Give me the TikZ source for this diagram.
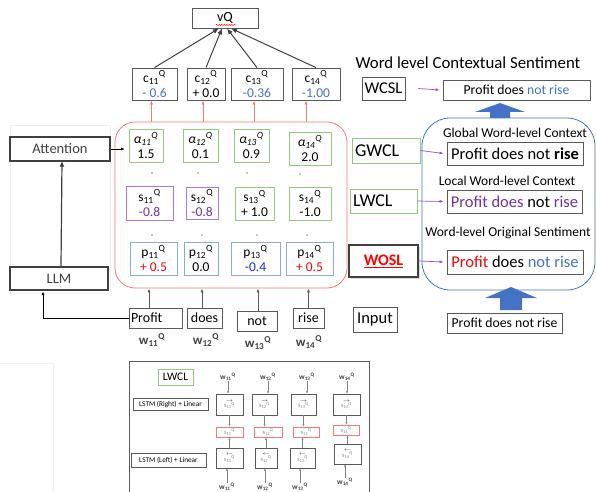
\documentclass[tikz,border=0pt]{standalone}
\usepackage{fontspec}
\setmainfont{Carlito}
\usetikzlibrary{arrows.meta,decorations.pathmorphing,shadows}

\definecolor{boxgray}{RGB}{89,89,89}
\definecolor{darkgray}{RGB}{64,64,64}
\definecolor{greenb}{RGB}{150,200,130}
\definecolor{purpleb}{RGB}{170,120,215}
\definecolor{purpletxt}{RGB}{112,48,160}
\definecolor{blueb}{RGB}{140,170,220}
\definecolor{bluetxt}{RGB}{68,114,196}
\definecolor{bluesat}{RGB}{20,40,240}
\definecolor{redtxt}{RGB}{255,0,0}
\definecolor{redb}{RGB}{245,120,120}
\definecolor{arrowpurple}{RGB}{150,80,200}
\definecolor{bigblue}{RGB}{68,114,196}

\newcommand{\ix}[2]{#1\textsubscript{#2}\textsuperscript{Q}}

\tikzset{
  every node/.style={inner sep=0pt, font=\fontsize{13.5}{15}\selectfont},
  graybox/.style={draw=boxgray, line width=0.8pt, align=center},
  greenbox/.style={draw=greenb, line width=0.8pt, align=center},
  purplebox/.style={draw=purpleb, line width=0.8pt, align=center},
  bluebox/.style={draw=blueb, line width=0.8pt, align=center},
  thickbox/.style={draw=darkgray, line width=2.4pt, text=darkgray, font=\fontsize{14.5}{16}\selectfont},
  wordbox/.style={draw=boxgray, line width=0.8pt, font=\fontsize{14}{15}\selectfont},
  resbox/.style={draw=boxgray, line width=0.8pt, font=\fontsize{16.5}{18}\selectfont},
  caption/.style={font=\fontsize{13.5}{15}\selectfont},
  layerbox/.style={greenbox, align=left, font=\fontsize{18}{19}\selectfont},
  tip/.style={-{Latex[length=4pt,width=3pt]}},
  bigtip/.style={-{Latex[length=6pt,width=5pt]}},
  redarrow/.style={tip, draw=redb, line width=0.7pt},
  grayarrow/.style={tip, draw=boxgray, line width=0.7pt},
  purplearrow/.style={tip, draw=arrowpurple, line width=0.7pt},
  dot/.style={circle, fill=black, minimum size=1.3pt},
  small/.style={font=\fontsize{7.3}{8}\selectfont},
  tinybox/.style={draw=boxgray, line width=0.5pt, align=center, font=\fontsize{6.3}{6.5}\selectfont, text=gray},
  tinyred/.style={draw=redb, line width=0.7pt, font=\fontsize{6.3}{6.5}\selectfont, text=gray},
  tinyarrow/.style={-{Latex[length=2.5pt,width=2pt]}, draw=gray, line width=0.5pt},
  wlab/.style={font=\fontsize{7.5}{8}\selectfont\bfseries, text=darkgray},
  wordlab/.style={font=\fontsize{13}{14}\selectfont\bfseries, text=darkgray},
}

\begin{document}
\begin{tikzpicture}[x=1pt,y=-1pt]
\useasboundingbox (0,0) rectangle (597,492);

% faint panels
\draw[gray!12, fill=white] (10,125) rectangle (110,293);
\draw[gray!12, fill=white] (-1,363) rectangle (53,493);

% output of the model
\node[graybox, minimum width=66, minimum height=20, font=\fontsize{14}{15}\selectfont] (vq) at (225,18) {vQ};
\draw[redtxt, line width=0.5pt, decorate, decoration={snake, amplitude=0.6pt, segment length=2.5pt}]
  (216,25) -- (236,25);

\node[graybox, minimum width=45, minimum height=32] (c1) at (154.5,84) {\ix{c}{11}\\\textcolor{bluetxt}{- 0.6}};
\node[graybox, minimum width=38, minimum height=32] (c2) at (206,84) {\ix{c}{12}\\+ 0.0};
\node[graybox, minimum width=52, minimum height=32] (c3) at (257,84) {\ix{c}{13}\\\textcolor{bluetxt}{-0.36}};
\node[graybox, minimum width=48, minimum height=32] (c4) at (316,84) {\ix{c}{14}\\\textcolor{bluetxt}{-1.00}};

\draw[bigtip, draw=darkgray, line width=1pt] (c1.north) -- ([xshift=-6]vq.south);
\draw[bigtip, draw=darkgray, line width=1pt] (c2.north) -- ([xshift=-3]vq.south);
\draw[bigtip, draw=darkgray, line width=1pt] (c3.north) -- ([xshift=2]vq.south);
\draw[bigtip, draw=darkgray, line width=1pt] (c4.north) -- ([xshift=6]vq.south);

% word-level scores
\node[draw=redb, line width=0.8pt, rounded corners=20, minimum width=232, minimum height=166] (core) at (231,205) {};

\draw[redarrow] (core.north -| c1.south) ++(-3,0) -- ([xshift=-3]c1.south);
\draw[redarrow] (core.north -| c2.south) ++(-3,0) -- ([xshift=-3]c2.south);
\draw[redarrow] (core.north -| c3.south) ++(-3,0) -- ([xshift=-3]c3.south);
\draw[redarrow] (core.north -| c4.south) ++(-10,0) -- ([xshift=-10]c4.south);

\node[greenbox, minimum width=34, minimum height=33] (a1) at (146,145.5) {\ix{\itshape α}{11}\\1.5};
\node[greenbox, minimum width=35, minimum height=33] (a2) at (200.5,145.5) {\ix{\itshape α}{12}\\0.1};
\node[greenbox, minimum width=35, minimum height=33] (a3) at (251.5,145.5) {\ix{\itshape α}{13}\\0.9};
\node[greenbox, minimum width=42, minimum height=33] (a4) at (310,148.5) {\ix{\itshape α}{14}\\2.0};

\node[dot] (d1) at (152,173) {};
\node[dot] (d2) at (198,173) {};
\node[dot] (d3) at (247,173) {};
\node[dot] (d4) at (300,174) {};

\node[purplebox, minimum width=47, minimum height=34] (s1) at (149.5,203) {\ix{s}{11}\\\textcolor{purpletxt}{-0.8}};
\node[purplebox, minimum width=32, minimum height=32] (s2) at (202,203) {\ix{s}{12}\\\textcolor{purpletxt}{-0.8}};
\node[greenbox, minimum width=39, minimum height=33] (s3) at (254.5,203.5) {\ix{s}{13}\\+ 1.0};
\node[greenbox, minimum width=42, minimum height=33] (s4) at (310,203.5) {\ix{s}{14}\\-1.0};

\node[dot] (e1) at (152,235) {};
\node[dot] (e2) at (202,235) {};
\node[dot] (e3) at (257,235) {};
\node[dot] (e4) at (307,235) {};

\node[bluebox, minimum width=47, minimum height=33] (p1) at (153.5,258.5) {\ix{p}{11}\\\textcolor{redtxt}{+ 0.5}};
\node[bluebox, minimum width=34, minimum height=33] (p2) at (201,258.5) {\ix{p}{12}\\0.0};
\node[bluebox, minimum width=49, minimum height=33] (p3) at (255.5,258.5) {\ix{p}{13}\\\textcolor{bluesat}{-0.4}};
\node[bluebox, minimum width=47, minimum height=33] (p4) at (309.5,258.5) {\ix{p}{14}\\\textcolor{redtxt}{+ 0.5}};

% input words
\node[wordbox, minimum width=53, minimum height=20, text width=49, align=left] (w1) at (155.5,318) {Profit};
\node[wordbox, minimum width=35, minimum height=20] (w2) at (204.5,318) {does};
\node[wordbox, minimum width=40, minimum height=20] (w3) at (257,321) {not};
\node[wordbox, minimum width=31, minimum height=20] (w4) at (308.5,318) {rise};

\node[wordlab] (l1) at (152,340) {\ix{w}{11}};
\node[wordlab] (l2) at (206,340) {\ix{w}{12}};
\node[wordlab] (l3) at (258,343) {\ix{w}{13}};
\node[wordlab] (l4) at (309,342) {\ix{w}{14}};

\draw[grayarrow] ([xshift=-6.5]w1.north) -- ([xshift=-6.5]w1.north |- core.south);
\draw[grayarrow] ([xshift=-2.5]w2.north) -- ([xshift=-2.5]w2.north |- core.south);
\draw[grayarrow] ([xshift=1]w3.north) -- ([xshift=1]w3.north |- core.south);
\draw[grayarrow] (w4.north) -- (w4.north |- core.south);

% encoder
\node[thickbox, minimum width=100, minimum height=24] (att) at (60,149) {Attention};
\node[thickbox, minimum width=98, minimum height=23] (llm) at (59,278.5) {LLM};
\draw[bigtip, draw=darkgray, line width=1.2pt] ([xshift=2]llm.north) -- ([xshift=2,yshift=1.5]att.south);
\coordinate (attin) at (125,149);
\draw[grayarrow, draw=black, line width=0.8pt] (att.east) -- (attin);
\draw[grayarrow, draw=black, line width=0.8pt] (w1.west) -| ([xshift=-16]llm.south);

% contextual sentiment layers
\node[font=\fontsize{16.8}{18}\selectfont] (title) at (468,63) {Word level Contextual Sentiment};
\node[graybox, minimum width=43, minimum height=23, font=\fontsize{16.5}{18}\selectfont] (wcsl) at (383.5,88.5) {WCSL};
\node[graybox, minimum width=147, minimum height=20, font=\fontsize{13.7}{15}\selectfont] (out) at (516.5,90) {Profit does \textcolor{bluetxt}{not rise}};
\draw[purplearrow] ([xshift=13]wcsl.east) -- ([xshift=-3]out.west);

\node[draw=bigblue, line width=0.8pt, rounded corners=28, minimum width=173, minimum height=172] (ctx) at (508.5,204) {};

\node[layerbox, minimum width=68, minimum height=25, text width=62] (gwcl) at (386,150.5) {GWCL};
\node[caption] (gcap) at (515,133) {Global Word-level Context};
\node[resbox, minimum width=136, minimum height=23] (gres) at (515,153.5) {Profit does not \textbf{rise}};
\draw[purplearrow] (gwcl.east) -- ([xshift=-3]gres.west);

\node[layerbox, minimum width=67, minimum height=24, text width=61] (lwcl) at (383.5,201) {LWCL};
\node[caption] (lcap) at (507,181) {Local Word-level Context};
\node[resbox, minimum width=135, minimum height=23] (lres) at (514.5,201.5) {\textcolor{purpletxt}{Profit does} not \textcolor{purpletxt}{rise}};
\draw[purplearrow] (lwcl.east) -- ([xshift=-3]lres.west);

\node[draw=darkgray, line width=2.6pt, fill=white, minimum width=69, minimum height=32,
      drop shadow={shadow xshift=1.5pt, shadow yshift=-1.5pt, opacity=0.3},
      font=\fontsize{16}{17}\selectfont] (wosl) at (383.5,261) {\textcolor{redtxt}{\underline{\textbf{WOSL}}}};
\node[caption] (ocap) at (508,233) {Word-level Original Sentiment};
\node[resbox, minimum width=136, minimum height=24] (ores) at (515,262) {\textcolor{redtxt}{Profit} does \textcolor{bluetxt}{not rise}};
\draw[purplearrow] (wosl.east) -- ([xshift=-3]ores.west);

\node[graybox, minimum width=44, minimum height=25, font=\fontsize{16.5}{18}\selectfont] (input) at (375,319.5) {Input};
\node[graybox, minimum width=115, minimum height=20, font=\fontsize{13.7}{15}\selectfont] (inres) at (504.5,323) {Profit does not rise};

% block arrows
\coordinate (up1) at (500,118);
\fill[bigblue] (up1) ++(-10,0) -- ++(0,-6) -- ++(-15,0) -- (500,103) -- (525,112) -- ++(-15,0) -- ++(0,6) -- cycle;
\coordinate (up2) at (511,310);
\fill[bigblue] (up2) ++(-11,0) -- ++(0,-12) -- ++(-15,0) -- (511,287) -- (537,298) -- ++(-15,0) -- ++(0,12) -- cycle;

% local context detail
\draw[boxgray, line width=0.6pt] (129,361) -- (129,500);
\draw[boxgray, line width=0.6pt] (129,361) -- (369,361) -- (369,500);

\node[greenbox, minimum width=35, minimum height=16, font=\fontsize{11.5}{12}\selectfont] (lwclb) at (175.5,377) {LWCL};
\node[draw=boxgray, line width=0.5pt, minimum width=75, minimum height=12, small] (lstmr) at (170.5,404) {LSTM (Right) + Linear};
\node[draw=boxgray, line width=0.5pt, minimum width=75, minimum height=14, small] (lstml) at (168.5,460) {LSTM (Left) + Linear};

\foreach \i/\xt/\xu/\wu/\yu/\xr/\wr/\yr/\xl/\wl/\yl/\xb/\yb in
  {1/228/229.5/27/404.5/229.5/27/432/229.5/27/458/227/487,
   2/268/264.5/25/404.5/268/28/432/266/22/458/265/487,
   3/307/303.5/25/404.5/306/26/432/302.5/25/458/300/487,
   4/347/346.5/27/404.5/346/26/430/347.5/27/454/345/482} {
  \node[wlab] (tw\i) at (\xt,377) {\ix{w}{1\i}};
  \node[tinybox, minimum width=\wu, minimum height=21] (ru\i) at (\xu,\yu) {\textcolor{darkgray}{$\rightarrow$}\\[-1pt]\ix{s}{1\i}};
  \node[tinyred, minimum width=\wr, minimum height=10] (rs\i) at (\xr,\yr) {\ix{s}{1\i}};
  \node[tinybox, minimum width=\wl, minimum height=20] (rl\i) at (\xl,\yl) {\textcolor{darkgray}{$\leftarrow$}\\[-1pt]\ix{s}{1\i}};
  \node[wlab] (bw\i) at (\xb,\yb) {\ix{w}{1\i}};
  \draw[tinyarrow] (tw\i.south) -- (tw\i.south |- ru\i.north);
  \draw[tinyarrow] (ru\i.south) -- (ru\i.south |- rs\i.north);
  \draw[tinyarrow] (rl\i.north) -- (rl\i.north |- rs\i.south);
  \draw[tinyarrow] (bw\i.north) -- (bw\i.north |- rl\i.south);
}
\end{tikzpicture}
\end{document}
